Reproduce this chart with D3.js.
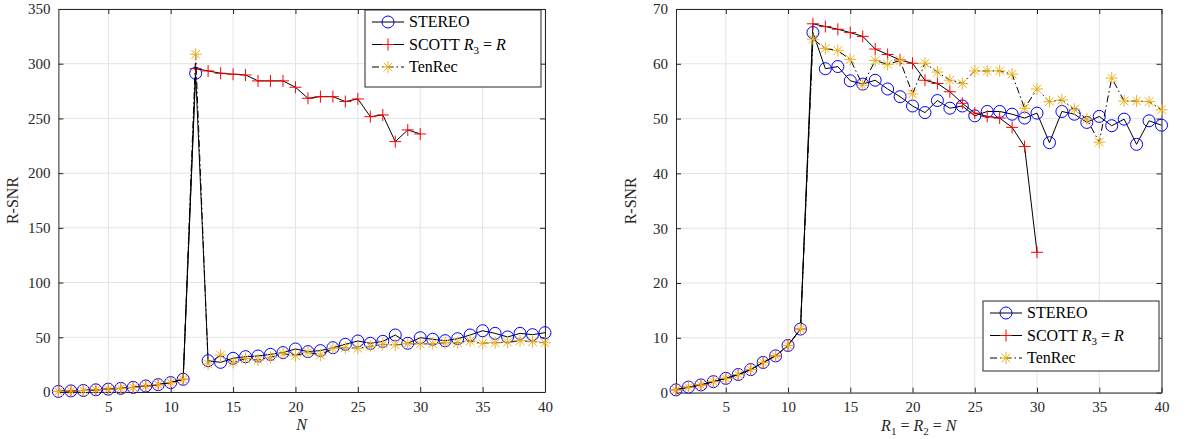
<!DOCTYPE html>
<html><head><meta charset="utf-8">
<script src="https://cdn.jsdelivr.net/npm/d3@7"></script>
<style>body{margin:0;background:#fff}svg{display:block}svg text{font-family:"Liberation Serif","Times New Roman","DejaVu Serif",serif}</style>
</head><body><svg id="c" width="1187" height="439"></svg>
<script>
// ---------- data ----------
const N = d3.range(1, 41);
const leftXTicks = [5,10,15,20,25,30,35,40];
const leftYTicks = [0,50,100,150,200,250,300,350];
const rightXTicks = [5,10,15,20,25,30,35,40];
const rightYTicks = [0,10,20,30,40,50,60,70];
const legendLabels = ["STEREO","SCOTT","TenRec"];

// Left chart (x = N)
const leftStereo = [0.5,1.0,1.4,2.0,2.6,3.3,4.2,5.5,6.7,8.6,11.6,
  291.3,28.6,27.1,30.8,32.3,32.9,34.4,36.0,39.3,36.9,37.8,40.5,43.6,46.6,44.5,46.3,52.1,44.5,49.6,
  48.2,46.9,48.7,52.1,56.0,53.6,50.3,53.6,52.4,54.2];
const leftScott = [0.5,1.0,1.4,2.0,2.6,3.3,4.2,5.5,6.7,8.6,11.6,
  295.5,293.4,291.3,290.4,289.7,284.3,284.3,284.3,278.5,268.4,269.9,269.9,265.4,267.8,251.6,253.2,228.8,239.5,235.8];
const leftTenRec = [0.5,1.0,1.4,2.0,2.6,3.3,4.2,5.5,6.7,8.6,11.6,
  308.6,25.6,33.8,27.1,30.5,29.2,31.7,35.0,33.2,36.3,33.8,39.9,40.5,39.9,41.8,43.6,43.0,44.2,43.9,
  44.2,45.0,45.0,46.6,44.5,45.0,45.5,46.9,46.0,45.0];

// Right chart (x = R1 = R2 = N)
const rightStereo = [0.5,1.0,1.4,2.0,2.6,3.3,4.2,5.5,6.7,8.6,11.6,
  65.7,59.1,59.5,56.9,56.3,57.0,55.4,54.0,52.3,51.1,53.3,51.9,52.3,50.5,51.3,51.3,50.8,50.1,51.0,
  45.6,51.3,50.8,49.3,50.4,48.7,49.9,45.3,49.6,48.8];
const rightScott = [0.5,1.0,1.4,2.0,2.6,3.3,4.2,5.5,6.7,8.6,11.6,
  67.3,66.8,66.3,65.7,65.0,62.7,61.7,60.7,60.1,57.0,56.4,54.9,52.8,51.0,50.4,50.1,48.4,44.9,25.6];
const rightTenRec = [0.5,1.0,1.4,2.0,2.6,3.3,4.2,5.5,6.7,8.6,11.6,
  64.5,62.8,62.4,60.8,56.1,60.6,59.9,60.6,54.5,60.1,58.5,57.0,56.4,58.7,58.7,58.7,58.1,51.9,55.4,
  53.1,53.4,51.7,49.9,45.7,57.4,53.2,53.2,53.1,51.6];

// ---------- drawing ----------
const svg = d3.select("#c");
const FONT = "'Liberation Serif', 'Times New Roman', 'DejaVu Serif', serif";
const AX = "#262626";
const COL = {stereo:"#0000ff", scott:"#ff0000", tenrec:"#EDB120"};

function marker(g, type, x, y) {
  if (type === "circle") {
    g.append("circle").attr("cx", x).attr("cy", y).attr("r", 6)
      .attr("fill", "none").attr("stroke", COL.stereo).attr("stroke-width", 1);
  } else if (type === "plus") {
    const s = 6;
    g.append("path").attr("d", `M${x-s},${y}H${x+s}M${x},${y-s}V${y+s}`)
      .attr("stroke", COL.scott).attr("stroke-width", 1).attr("fill", "none");
  } else {
    const s = 6, d = 4.3;
    g.append("path").attr("d", `M${x-s},${y}H${x+s}M${x},${y-s}V${y+s}M${x-d},${y-d}L${x+d},${y+d}M${x-d},${y+d}L${x+d},${y-d}`)
      .attr("stroke", COL.tenrec).attr("stroke-width", 1).attr("fill", "none");
  }
}

function drawChart(cfg) {
  const {x0, x1, y0, y1, yMax, xTicks, yTicks, series, xLabel, legend} = cfg;
  const x = d3.scaleLinear().domain([1, 40]).range([x0, x1]);
  const y = d3.scaleLinear().domain([0, yMax]).range([y1, y0]);
  const g = svg.append("g");

  // grid
  g.append("g").selectAll("line").data(xTicks).join("line")
    .attr("x1", d => x(d)).attr("x2", d => x(d)).attr("y1", y0).attr("y2", y1)
    .attr("stroke", "#e3e3e3").attr("stroke-width", 1);
  g.append("g").selectAll("line").data(yTicks).join("line")
    .attr("y1", d => y(d)).attr("y2", d => y(d)).attr("x1", x0).attr("x2", x1)
    .attr("stroke", "#e3e3e3").attr("stroke-width", 1);

  // axes (ticks inside, box)
  const xb = d3.axisBottom(x).tickValues(xTicks).tickSizeInner(-5).tickSizeOuter(0).tickPadding(9);
  const xt = d3.axisTop(x).tickValues(xTicks).tickSizeInner(-5).tickSizeOuter(0).tickFormat("");
  const yl = d3.axisLeft(y).tickValues(yTicks).tickSizeInner(-5).tickSizeOuter(0).tickPadding(8);
  const yr = d3.axisRight(y).tickValues(yTicks).tickSizeInner(-5).tickSizeOuter(0).tickFormat("");
  const styleAxis = a => {
    a.attr("font-family", null);
    a.selectAll("path").attr("stroke", AX);
    a.selectAll("line").attr("stroke", AX);
    a.selectAll("text").attr("fill", AX).style("font-family", FONT).style("font-size", "15px");
  };
  styleAxis(g.append("g").attr("transform", `translate(0,${y1})`).call(xb));
  styleAxis(g.append("g").attr("transform", `translate(0,${y0})`).call(xt));
  styleAxis(g.append("g").attr("transform", `translate(${x0},0)`).call(yl));
  styleAxis(g.append("g").attr("transform", `translate(${x1},0)`).call(yr));

  // series
  series.forEach(s => {
    const pts = s.values.map((v, i) => [N[i], v]);
    const line = d3.line().x(d => x(d[0])).y(d => y(d[1]));
    g.append("path").attr("d", line(pts)).attr("fill", "none")
      .attr("stroke", "#000").attr("stroke-width", 1)
      .attr("stroke-dasharray", s.dash || null);
    pts.forEach(p => marker(g, s.marker, x(p[0]), y(p[1])));
  });

  // axis labels
  const lab = g.append("text").attr("x", (x0 + x1) / 2).attr("y", y1 + 38)
    .attr("text-anchor", "middle").style("font-family", FONT).style("font-size", "16px").attr("fill", AX);
  xLabel(lab);
  g.append("text").attr("transform", `translate(${x0 - 40},${(y0 + y1) / 2}) rotate(-90)`)
    .attr("text-anchor", "middle").style("font-family", FONT).style("font-size", "16px")
    .attr("fill", AX).text("R-SNR");

  // legend
  const L = legend;
  const lg = g.append("g");
  lg.append("rect").attr("x", L.x).attr("y", L.y).attr("width", L.w).attr("height", L.h)
    .attr("fill", "#fff").attr("stroke", AX).attr("stroke-width", 1);
  series.forEach((s, i) => {
    const yy = L.y + 12 + i * 22.5;
    lg.append("line").attr("x1", L.x + 7).attr("x2", L.x + 39).attr("y1", yy).attr("y2", yy)
      .attr("stroke", "#000").attr("stroke-width", 1).attr("stroke-dasharray", s.dash || null);
    marker(lg, s.marker, L.x + 23, yy);
    const t = lg.append("text").attr("x", L.x + 44).attr("y", yy + 5)
      .style("font-family", FONT).style("font-size", "16px").attr("fill", "#000");
    t.append("tspan").text(legendLabels[i]);
    if (i === 1) {
      t.append("tspan").text(" R").style("font-style", "italic");
      t.append("tspan").text("3").attr("dy", 4).style("font-size", "11px");
      t.append("tspan").text(" = ").attr("dy", -4);
      t.append("tspan").text("R").style("font-style", "italic");
    }
  });
}

const dash = "7,3,1.5,3";
drawChart({
  x0: 58.4, x1: 545, y0: 9, y1: 392, yMax: 350,
  xTicks: leftXTicks, yTicks: leftYTicks,
  series: [
    {values: leftStereo, marker: "circle"},
    {values: leftScott, marker: "plus"},
    {values: leftTenRec, marker: "tenrec", dash: dash}
  ],
  xLabel: t => t.append("tspan").text("N").style("font-style", "italic"),
  legend: {x: 365, y: 10, w: 176, h: 77}
});
drawChart({
  x0: 676, x1: 1161.5, y0: 9, y1: 392.6, yMax: 70,
  xTicks: rightXTicks, yTicks: rightYTicks,
  series: [
    {values: rightStereo, marker: "circle"},
    {values: rightScott, marker: "plus"},
    {values: rightTenRec, marker: "tenrec", dash: dash}
  ],
  xLabel: t => {
    t.append("tspan").text("R").style("font-style", "italic");
    t.append("tspan").text("1").attr("dy", 4).style("font-size", "11px");
    t.append("tspan").text(" = ").attr("dy", -4);
    t.append("tspan").text("R").style("font-style", "italic");
    t.append("tspan").text("2").attr("dy", 4).style("font-size", "11px");
    t.append("tspan").text(" = ").attr("dy", -4);
    t.append("tspan").text("N").style("font-style", "italic");
  },
  legend: {x: 983, y: 301, w: 176, h: 70}
});
</script></body></html>
